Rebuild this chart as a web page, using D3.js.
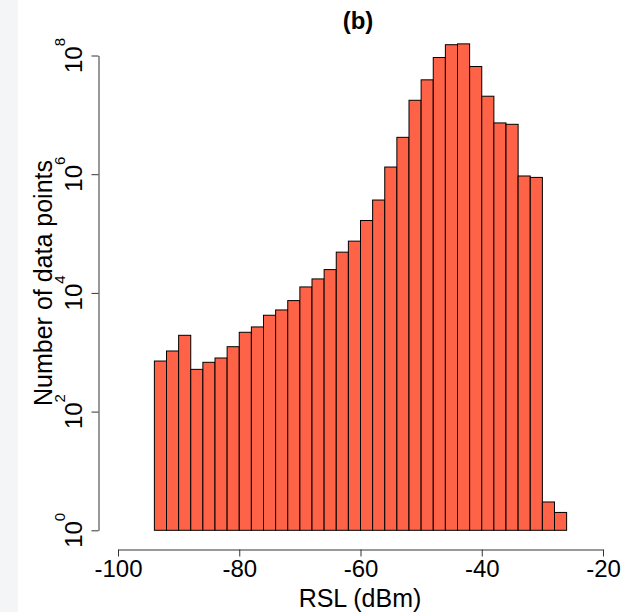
<!DOCTYPE html>
<html>
<head>
<meta charset="utf-8">
<script src="https://cdn.jsdelivr.net/npm/d3@7/dist/d3.min.js"></script>
<style>
  html, body { margin: 0; padding: 0; background: #ffffff; }
  svg { display: block; }
  text { font-family: "Liberation Sans", Arial, sans-serif; fill: #000; }
</style>
</head>
<body>
<svg id="chart" width="623" height="612"></svg>
<script>
// ---- data ----
const binStarts = [-94, -92, -90, -88, -86, -84, -82, -80, -78, -76, -74, -72, -70, -68, -66, -64, -62, -60,
                   -58, -56, -54, -52, -50, -48, -46, -44, -42, -40, -38, -36, -34, -32, -30, -28, -26];
const binWidth = 2;
const counts = [711, 1050, 1930, 515, 677, 800, 1240, 2170, 2670, 4200, 5160, 7420, 12600, 17200, 24700, 48600,
                74500, 166000, 367000, 1320000, 4180000, 17600000, 38900000, 92500000, 152000000, 157000000,
                65200000, 20600000, 7310000, 6930000, 933000, 883000, 3, 2, 1];
const xTicks = [-100, -80, -60, -40, -20];
const yExponents = [0, 2, 4, 6, 8];
const titleText = "(b)";
const xLabel = "RSL (dBm)";
const yLabel = "Number of data points";

// ---- layout ----
const svg = d3.select("#chart");
svg.append("rect").attr("x", 0).attr("y", 0).attr("width", 18).attr("height", 612).attr("fill", "#f4f5f7");

const x = d3.scaleLinear().domain([-100, -20]).range([118, 603]);
const y = d3.scaleLog().domain([1, 1e8]).range([530.3, 55.5]);

// bars
svg.append("g").selectAll("rect").data(binStarts.map((b, i) => ({b, v: counts[i]})))
  .join("rect")
  .attr("x", d => x(d.b))
  .attr("width", d => x(d.b + binWidth) - x(d.b))
  .attr("y", d => y(d.v))
  .attr("height", d => y(1) - y(d.v))
  .attr("fill", "#ff6347")
  .attr("stroke", "#000")
  .attr("stroke-width", 1);

// x axis
const xAxis = svg.append("g").attr("transform", "translate(0,549.5)")
  .call(d3.axisBottom(x).tickValues(xTicks).tickSize(7).tickSizeOuter(0).tickFormat(d => d));
xAxis.select(".domain").attr("stroke", "#333");
xAxis.selectAll(".tick line").attr("stroke", "#333");
xAxis.selectAll(".tick text").attr("font-size", 24).attr("font-family", "Liberation Sans, Arial, sans-serif")
  .attr("fill", "#000").attr("y", 0).attr("dy", 0)
  .attr("transform", "translate(0,27.5)")
  .text(d => d < 0 ? "-" + Math.abs(d) : d);

// y axis
const yAxis = svg.append("g").attr("transform", "translate(98.5,0)")
  .call(d3.axisLeft(y).tickValues(yExponents.map(e => Math.pow(10, e))).tickSize(7).tickSizeOuter(0).tickFormat(""));
yAxis.select(".domain").attr("stroke", "#333");
yAxis.selectAll(".tick line").attr("stroke", "#333");

yExponents.forEach(e => {
  const t = svg.append("text")
    .attr("transform", `translate(82,${y(Math.pow(10, e))}) rotate(-90)`)
    .attr("text-anchor", "middle")
    .attr("font-size", 24);
  t.append("tspan").text("10");
  t.append("tspan").attr("font-size", 15).attr("dy", -17).text(String(e));
});

// title
svg.append("text").attr("x", 358).attr("y", 29).attr("text-anchor", "middle")
  .attr("font-size", 24).attr("font-weight", "bold").text(titleText);

// axis labels
svg.append("text").attr("x", 360).attr("y", 607).attr("text-anchor", "middle")
  .attr("font-size", 25).text(xLabel);
svg.append("text").attr("transform", "translate(52,283) rotate(-90)").attr("text-anchor", "middle")
  .attr("font-size", 25).text(yLabel);
</script>
</body>
</html>
